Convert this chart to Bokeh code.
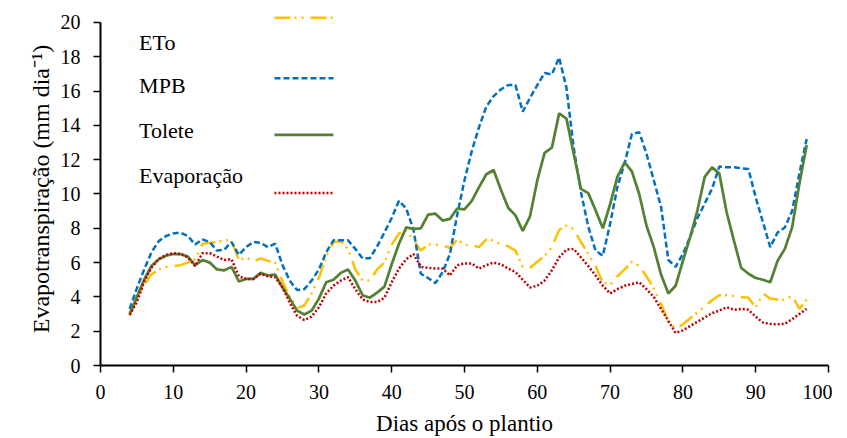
from bokeh.plotting import figure
from bokeh.models import Label, FixedTicker, Range1d
from bokeh.embed import file_html
from bokeh.resources import INLINE

# ---------------- data ----------------
days = [4, 5, 6, 7, 8, 9, 10, 11, 12, 13, 14, 15, 16, 17, 18, 19, 20, 21, 22, 23,
        24, 25, 26, 27, 28, 29, 30, 31, 32, 33, 34, 35, 36, 37, 38, 39, 40, 41, 42, 43,
        44, 45, 46, 47, 48, 49, 50, 51, 52, 53, 54, 55, 56, 57, 58, 59, 60, 61, 62, 63,
        64, 65, 66, 67, 68, 69, 70, 71, 72, 73, 74, 75, 76, 77, 78, 79, 80, 81, 82, 83,
        84, 85, 86, 87, 88, 89, 90, 91, 92, 93, 94, 95, 96, 97]

eto = [2.9, 3.9, 4.7, 5.3, 5.6, 5.75, 5.8, 5.85, 6.0, 6.2, 7.1, 7.15, 7.2, 7.3, 7.3, 6.15,
       6.3, 6.05, 6.25, 6.1, 6.0, 4.9, 4.0, 3.35, 3.5, 4.2, 5.1, 6.4, 7.2, 7.25, 6.8, 5.6,
       4.95, 4.95, 5.6, 6.0, 7.05, 7.7, 7.85, 7.3, 6.7, 7.05, 7.05, 7.0, 6.85, 7.35, 7.05,
       7.0, 6.9, 7.35, 7.3, 7.05, 6.95, 6.7, 5.75, 5.7, 6.05, 6.4, 6.9, 7.9, 8.15, 7.95,
       7.2, 6.5, 5.8, 4.85, 4.7, 5.2, 5.6, 6.05, 5.8, 5.2, 4.5, 3.6, 2.55, 2.15, 2.4, 2.75,
       3.1, 3.45, 3.8, 4.1, 4.1, 4.05, 4.0, 3.95, 3.4, 4.2, 3.9, 3.85, 3.83, 4.08, 3.3, 3.85]

mpb = [3.3, 4.5, 5.6, 6.6, 7.25, 7.55, 7.7, 7.75, 7.55, 7.05, 7.35, 7.2, 6.7, 6.75, 7.2,
       6.45, 6.9, 7.2, 7.15, 6.9, 7.1, 5.85, 4.95, 4.4, 4.45, 4.95, 5.6, 6.6, 7.3, 7.3, 7.3,
       6.8, 6.25, 6.25, 6.95, 7.75, 8.6, 9.6, 9.15, 7.9, 5.35, 5.1, 4.8, 5.45, 6.5, 8.8,
       10.8, 12.5, 13.9, 15.1, 15.7, 16.1, 16.35, 16.35, 14.8, 15.6, 16.35, 17.05, 16.97,
       17.95, 16.2, 12.7, 10.1, 8.1, 6.7, 6.4, 8.25, 10.4, 11.8, 13.5, 13.6, 12.35, 10.8,
       9.25, 6.15, 5.75, 6.5, 7.5, 8.6, 9.45, 10.3, 11.6, 11.56, 11.56, 11.5, 11.45, 9.8,
       8.35, 6.9, 7.75, 8.05, 9.0, 11.2, 13.2]

tolete = [3.0, 4.0, 5.0, 5.8, 6.2, 6.4, 6.5, 6.5, 6.35, 5.85, 6.15, 6.0, 5.6, 5.55, 5.75,
          4.9, 5.05, 5.05, 5.4, 5.25, 5.3, 4.55, 3.9, 3.2, 2.97, 3.2, 3.9, 4.85, 5.0, 5.4,
          5.6, 4.95, 4.1, 3.95, 4.25, 4.6, 5.9, 7.1, 8.05, 7.97, 8.0, 8.8, 8.85, 8.45, 8.55,
          9.15, 9.1, 9.6, 10.4, 11.15, 11.4, 10.25, 9.2, 8.75, 7.85, 8.7, 10.8, 12.4, 12.7,
          14.7, 14.4, 12.35, 10.3, 10.05, 9.05, 8.0, 9.4, 11.0, 11.85, 11.3, 10.0, 8.15, 6.9,
          5.3, 4.2, 4.65, 6.1, 7.5, 9.05, 11.0, 11.55, 11.2, 8.95, 7.3, 5.7, 5.35, 5.1, 5.0,
          4.85, 6.1, 6.8, 8.05, 10.6, 12.85]

evap = [2.95, 3.7, 4.9, 5.7, 6.2, 6.45, 6.55, 6.5, 6.3, 5.8, 6.55, 6.55, 6.35, 6.15, 6.2,
        5.2, 5.05, 5.05, 5.35, 5.2, 5.15, 4.55, 3.65, 2.9, 2.65, 2.85, 3.4, 4.2, 4.65, 4.95,
        5.15, 4.45, 3.85, 3.7, 3.7, 3.95, 4.85, 5.65, 6.2, 6.5, 5.75, 5.7, 5.65, 5.65, 5.25,
        5.85, 5.95, 5.95, 5.65, 5.85, 6.0, 5.9, 5.65, 5.45, 5.0, 4.55, 4.65, 4.95, 5.55, 6.3,
        6.75, 6.8, 6.3, 5.8, 5.25, 4.65, 4.2, 4.45, 4.65, 4.75, 4.85, 4.45, 4.0, 3.3, 2.6,
        1.9, 2.05, 2.3, 2.55, 2.8, 3.05, 3.2, 3.4, 3.25, 3.3, 3.25, 2.85, 2.5, 2.42, 2.4,
        2.43, 2.7, 3.0, 3.3]

series_names = ["ETo", "MPB", "Tolete", "Evaporação"]
x_ticks = [0, 10, 20, 30, 40, 50, 60, 70, 80, 90, 100]
y_ticks = [0, 2, 4, 6, 8, 10, 12, 14, 16, 18, 20]

# ---------------- styles ----------------
FONT = "Liberation Serif"
styles = {
    "ETo": dict(color="#FFC000", width=2.5, dash="16 4 2 5 2 7"),
    "MPB": dict(color="#0070C0", width=2.5, dash="6 3"),
    "Tolete": dict(color="#548235", width=2.75, dash="solid"),
    "Evaporação": dict(color="#C00000", width=2.5, dash="2 2"),
}
values = {"ETo": eto, "MPB": mpb, "Tolete": tolete, "Evaporação": evap}

p = figure(frame_width=728, frame_height=353,
           min_border_left=100, min_border_right=4, min_border_top=12, min_border_bottom=73,
           x_range=Range1d(0, 100), y_range=Range1d(0, 20.58),
           output_backend="svg", toolbar_location=None, tools="")

p.outline_line_color = None
p.background_fill_color = "white"
p.border_fill_color = "white"
p.xgrid.visible = False
p.ygrid.visible = False

for name in series_names:
    st = styles[name]
    p.line(days, values[name], line_color=st["color"], line_width=st["width"],
           line_dash=st["dash"])

# axes
for ax in (p.xaxis[0], p.yaxis[0]):
    ax.axis_line_color = "black"
    ax.axis_line_width = 2
    ax.major_tick_line_color = "black"
    ax.major_tick_line_width = 1.5
    ax.major_tick_out = 7
    ax.major_tick_in = 0
    ax.minor_tick_line_color = None
    ax.major_label_text_font = FONT
    ax.major_label_text_font_size = "20px"
    ax.major_label_text_color = "black"
    ax.axis_label_text_font = FONT
    ax.axis_label_text_font_style = "normal"
    ax.axis_label_text_color = "black"

p.xaxis.axis_label_text_font_size = "23px"
p.yaxis.axis_label_text_font_size = "24px"
p.xaxis.ticker = FixedTicker(ticks=x_ticks)
p.yaxis.ticker = FixedTicker(ticks=y_ticks)
p.yaxis.bounds = (0, 20)
p.xaxis.major_label_standoff = 12
p.yaxis.major_label_standoff = 13
p.xaxis.axis_label = "Dias após o plantio"
p.yaxis.axis_label = "Evapotranspiração (mm dia⁻¹)"
p.xaxis.axis_label_standoff = 9
p.yaxis.axis_label_standoff = 4

# custom legend (label left, sample to the right, as in the original)
legend_text_x = 5.3
legend_text_y = [18.85, 16.3, 13.7, 11.05]
legend_line_x = [23.9, 32.0]
legend_line_y = [20.27, 16.75, 13.45, 10.05]
for name, ty, ly in zip(series_names, legend_text_y, legend_line_y):
    st = styles[name]
    p.add_layout(Label(x=legend_text_x, y=ty, text=name, text_font=FONT,
                       text_font_size="22px", text_baseline="middle", text_color="black"))
    p.line(legend_line_x, [ly, ly], line_color=st["color"], line_width=st["width"],
           line_dash=st["dash"])

open("out.html", "w").write(file_html(p, INLINE))
